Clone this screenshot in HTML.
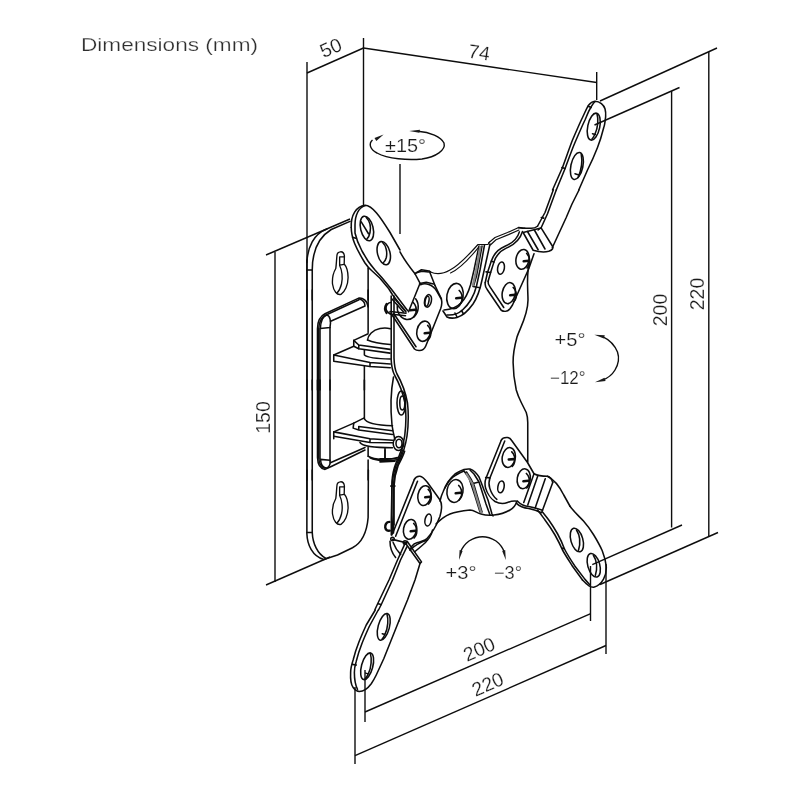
<!DOCTYPE html>
<html><head><meta charset="utf-8">
<style>
html,body{margin:0;padding:0;background:#fff;}
body{width:800px;height:800px;overflow:hidden;font-family:"Liberation Sans",sans-serif;}
svg{display:block;position:absolute;left:0;top:0;filter:grayscale(1);}
.d{stroke:#0d0d0d;stroke-width:1.4;fill:none;stroke-linecap:butt;stroke-linejoin:round;}
.p{stroke:#0d0d0d;stroke-width:1.55;fill:none;stroke-linecap:round;stroke-linejoin:round;}
.p *{vector-effect:non-scaling-stroke;}
.w{fill:#fff;}
.pw{stroke:#1a1a1a;stroke-width:1.1;fill:#fff;stroke-linecap:round;stroke-linejoin:round;}
.t{font-family:"Liberation Sans",sans-serif;fill:#1a1a1a;stroke:#fff;stroke-width:0.2;}
</style></head><body>
<svg width="800" height="800" viewBox="0 0 800 800">
<rect width="800" height="800" fill="#fff"/>
<defs>
<g id="ph" fill="none" stroke="#0d0d0d" stroke-linecap="round">
<path d="M0.200 1.200L5.200 0.800" stroke-width="2.600"/>
<path d="M3.200 -6.500C5.800 -4 6.600 0 6 3.500C5.600 5.500 4.600 7 3.600 8" stroke-width="1.700"/>
</g>
<g id="kh" fill="none" stroke="#0d0d0d" stroke-width="1.350" stroke-linecap="round" stroke-linejoin="round">
<path d="M336.900 256C337 250.800 343.800 250 344.400 256L344.200 264C346.500 266.500 348 272 348.100 277.500C348 285 345 292 341 294.300C337 295.500 333.500 291 332.500 284C332 277 334 271.500 335.800 268.500C336.300 265 336.500 260 336.900 256Z"/>
<path d="M339.650 265.300V256.900H344.200M339.650 265.200L344.200 264.400"/>
<path d="M339.650 265.500C342 270 343 278 341.500 284C340.500 288 339 291 337 293"/>
</g>
</defs>
<!-- TITLE -->
<text class="t" x="81" y="51" font-size="18" textLength="177" lengthAdjust="spacingAndGlyphs" style="fill:#2e2e2e;stroke-width:0.25">Dimensions (mm)</text>

<!-- DIMENSION LINES -->
<g class="d" id="dims">
<!-- 50 -->
<path d="M307 62V500"/>
<path d="M307 73L363.5 48"/>
<!-- 50/74 shared vertical -->
<path d="M363.5 38V205"/>
<!-- 74 -->
<path d="M363.5 48L596.7 82.5"/>
<path d="M596.7 72V100"/>
<!-- 220 vertical -->
<path d="M600 101L717 48"/>
<path d="M708.800 52V537"/>
<path d="M600 584.5L718 532.5"/>
<!-- 200 vertical -->
<path d="M594.5 125L679.5 87.5"/>
<path d="M671.600 91V527.5"/>
<path d="M592.300 564.600L682 525"/>
<!-- 200 bottom -->
<path d="M365 670V722"/>
<path d="M365 712L590.7 613.6"/>
<path d="M590.5 566V621"/>
<!-- 220 bottom -->
<path d="M355 687V764"/>
<path d="M355 755.7L606 645.5"/>
<path d="M606 564V654"/>
<!-- 150 -->
<path d="M266 255L350 219"/>
<path d="M275 252V582"/>
<path d="M266 585L330 557"/>
<!-- +-15 line -->
<path d="M400 164V234"/>
</g>


<!-- TEXT LABELS -->
<g class="t" font-size="19.500" text-anchor="middle">
<text transform="translate(330.600,47.500) rotate(-23.800)" y="7">50</text>
<text transform="translate(479.200,52) rotate(8.200)" y="7">74</text>
<text transform="translate(659.750,310) rotate(-90)" y="7">200</text>
<text transform="translate(696.750,294) rotate(-90)" y="7">220</text>
<text transform="translate(262.750,417.500) rotate(-90)" y="7">150</text>
<text transform="translate(479,649) rotate(-23.900)" y="7">200</text>
<text transform="translate(487.500,684) rotate(-23.900)" y="7">220</text>
</g>
<g class="t" font-size="18">
<text x="385" y="152" textLength="41" lengthAdjust="spacingAndGlyphs">±15°</text>
<text x="554.500" y="346.300" textLength="31" lengthAdjust="spacingAndGlyphs">+5°</text>
<text x="550" y="384.400" textLength="35.500" lengthAdjust="spacingAndGlyphs">−12°</text>
<text x="445.500" y="579" textLength="31" lengthAdjust="spacingAndGlyphs">+3°</text>
<text x="494" y="579" textLength="28" lengthAdjust="spacingAndGlyphs">−3°</text>
</g>
<!-- ARCS + ARROWS -->
<g class="d">
<!-- +-15 ellipse -->
<path d="M418 131.300C430 132 441 137 444 143C446 150 436 157 422 159C408 160.500 388 159 377 153C369 149 369 143 372.500 140"/>
<!-- +5/-12 arc -->
<path d="M603 336.800C610 340 615 346 617.500 352C619.500 358 618 365 615 370C612 375 608 378 603 379.800"/>
<!-- +3/-3 arc -->
<path d="M460.500 552C462.500 547 465 544 469 541C474 538 478 536.800 482.500 536.800C487 536.800 491 538 496 541C500 544 502.500 547 504.200 552"/>
</g>
<g fill="#1a1a1a" stroke="none">
<path d="M409.200 131L420 129.700L419.300 132.800Z"/>
<path d="M383.600 134.500L374.500 138L376.300 141Z"/>
<path d="M594.400 334.700L604.800 335.300L603.800 338.600Z"/>
<path d="M595 382.200L604.500 377.800L605.600 381Z"/>
<path d="M459 560L459.600 550L462.600 551Z"/>
<path d="M505.800 560L502.200 551L505.200 550Z"/>
</g>

<!-- PART -->
<g class="p" id="part">

<!-- TILE A (300,200) -->
<g transform="translate(300,200) scale(0.125)">
<!-- plate top-left -->
<path d="M55 500C60 380 110 270 215 232"/>
<path d="M98 560C98 400 150 297 250 236L400 171"/>
<path d="M55 560H98V800"/>
<path d="M55 480V800"/>
<!-- keyhole top -->
<!-- plate right edge -->
<path d="M545 545V800"/>
<!-- arm UL -->
<path d="M410 220C405 120 450 50 520 42C580 45 640 130 720 260L800 400"/>
<path d="M410 220C410 265 422 310 437 348C455 392 490 455 520 504C540 534 558 552 577 568L638 624L710 710L740 758L800 836L848 896"/>
<path d="M520 45C470 60 440 120 440 200L440 264C448 300 470 360 496 408C512 436 528 462 544 488C562 514 580 536 600 560L656 622L730 712L860 884"/>
<path d="M420 298L447 306"/>

<ellipse cx="535" cy="228" rx="50" ry="100" transform="rotate(-14 535 228)"/>
<path d="M530 140C560 170 568 220 560 260C555 285 548 300 536 311"/>
<path d="M490 175L548 270"/>
<ellipse cx="670" cy="425" rx="50" ry="95" transform="rotate(-14 670 425)"/>
<path d="M659 338C690 365 700 420 690 462C685 480 678 492 668 500"/>
</g>

<!-- TILE B (400,250) -->
<g transform="translate(400,250) scale(0.125)">
<path d="M0 15C40 90 80 140 120 190L160 265"/>
<path d="M118 190L172 158L232 168L244 176"/>
<path d="M130 182L175 170L228 176"/>
<path d="M236 172L280 284"/>
<path d="M157 268L210 258L268 272"/>
<!-- bracket UL -->
<path d="M158 272L68 494"/>
<path d="M164 278C200 262 260 270 296 332L330 392C340 420 336 440 325 470L206 768C195 795 170 805 152 804C135 803 125 800 116 792L-70 510"/>
<path d="M128 774L-49 510"/>
<path d="M280 284L332 392"/>
<ellipse cx="224" cy="407" rx="27" ry="51" transform="rotate(12 224 407)"/>
<ellipse cx="216" cy="410" rx="15" ry="40" transform="rotate(12 216 410)"/>
<!-- screws -->
<path d="M-20 440C-30 490 0 545 50 555C100 560 140 520 145 470C148 440 140 410 125 390"/>
<ellipse cx="190" cy="650" rx="55" ry="82" transform="rotate(12 190 650)"/>

<ellipse cx="440" cy="368" rx="65" ry="102" transform="rotate(10 440 368)"/>

<!-- center plate top edge -->
</g>

<!-- centre plate top edge + rib (source coords) -->
<g>
<path d="M430.5 272C437 275 444 273.500 450 270C458 266 466 258 478 244.500L488 244.500L489.500 242" stroke-width="1.150"/>
<path d="M450.500 273C459.500 269 467.500 261 478.500 247.300" stroke-width="1.100"/>
<!-- rib lines -->
<path d="M479 246L474 270L470.500 285C468.500 292 465 299 461 303C457 307 452 309.500 444 310"/>
<path d="M482 246L476.500 276L473.500 286"/>
<path d="M484.500 245L480 270L476.500 286C474 296 468 305 462.500 310C458 314 453 315.500 447 315"/>
<path d="M490 244L486 262L482 280C480 290 477 298 473 304C468 311 462 316 457 317.500C453 318.500 449 318 447 317L443 311"/>
<path d="M473 286.500L480 287.700M461.500 310.500L463.500 314M455 313L457 317"/>
</g>
<!-- TILE C (470,220) UR bracket -->
<g transform="translate(470,220) scale(0.125)">
<path d="M150 182L200 140L300 100L385 62L440 64" stroke-width="1.150"/>
<path d="M163 200L208 158L308 117L392 80" stroke-width="1.100"/>
<path d="M395 95C380 150 340 185 280 210C220 235 190 270 170 330L140 420L122 500"/>
<path d="M420 92C400 160 350 200 290 225C235 250 210 280 192 335L165 420L145 490"/>
<path d="M122 500C118 520 125 540 140 560L250 722C270 735 300 735 320 710L340 680L470 390L512 270"/>
<path d="M145 490C142 505 150 520 160 535L270 700"/>
<path d="M170 330L192 336M128 415L165 420"/>
<ellipse cx="248" cy="385" rx="27" ry="50" transform="rotate(10 248 385)"/>
<ellipse cx="420" cy="315" rx="52" ry="80" transform="rotate(10 420 315)"/>

<ellipse cx="310" cy="585" rx="52" ry="85" transform="rotate(10 310 585)"/>

<!-- tab of UR arm -->
<!-- centre plate right concave edge -->
</g>

<!-- TILE D (530,90) UR arm tip -->
<g transform="translate(530,90) scale(0.125)">
<path d="M180 800L260 620C290 540 320 450 340 400C370 330 400 260 420 220C440 180 455 140 470 120C485 100 500 92 520 90C560 90 590 120 600 150C608 180 606 200 605 215C600 260 595 290 590 300C575 360 560 410 540 460C515 525 490 580 460 640L390 800"/>
<path d="M210 800L280 630C310 550 340 465 360 420C390 350 420 280 440 240C455 205 470 165 485 142C495 125 505 105 520 92"/>
<path d="M465 130L490 140M255 620L280 628"/>
<ellipse cx="510" cy="293" rx="48" ry="110" transform="rotate(12 510 293)"/>
<path d="M536 192C548 230 545 300 520 352C512 370 505 382 496 392"/>
<path d="M500 350L522 356"/>
<ellipse cx="375" cy="608" rx="48" ry="110" transform="rotate(12 375 608)"/>
<path d="M410 515C420 565 410 640 385 700M360 670L390 680"/>
</g>
<!-- TILE E (490,160) UR arm lower + tab -->
<g transform="translate(490,160) scale(0.125)">
<path d="M507 238L440 420L380 530"/>
<path d="M530 240L460 430L410 540L385 560"/>
<path d="M410 460L430 465"/>
<path d="M712 240L656 352L608 464L560 568L512 672L498 702"/>
<path d="M380 530C360 545 340 548 320 546L260 545L228 540"/>
<path d="M265 580L400 546L410 545L500 690C510 705 500 720 470 730C440 738 400 738 345 722L265 580"/>
<path d="M300 572L385 718M355 560L440 712"/>
</g>

<!-- TILE F (470,420) LR bracket -->
<g transform="translate(470,420) scale(0.125)">
<path d="M250 162C258 145 275 138 300 140C315 142 325 150 332 162L460 340L512 430"/>
<path d="M250 162L130 460C118 490 118 520 125 545C135 580 165 630 200 652C230 668 270 672 300 660C330 648 350 645 380 650"/>
<path d="M278 168L160 462C150 490 150 520 158 545C170 585 190 615 215 635"/>
<path d="M125 460L160 463"/>
<ellipse cx="310" cy="300" rx="52" ry="80" transform="rotate(10 310 300)"/>

<ellipse cx="430" cy="470" rx="52" ry="80" transform="rotate(10 430 470)"/>

<ellipse cx="248" cy="535" rx="25" ry="48" transform="rotate(10 248 535)"/>
<!-- tab -->
<path d="M512 430L430 660M542 448L462 680M602 470L522 702M662 500L580 722"/>
<path d="M512 430C540 445 580 450 620 450C640 455 655 475 662 500"/>
<path d="M380 650C410 680 440 690 470 692C510 700 550 712 580 722"/>
<path d="M370 665C400 695 440 705 470 708C510 715 545 728 572 742"/>
<!-- arm top edge start -->
<path d="M620 450C680 480 720 540 750 600L800 690"/>
</g>
<!-- TILE G (520,480) LR arm -->
<g transform="translate(520,480) scale(0.125)">
<path d="M400 210C432 255 475 292 508 328C542 366 568 405 590 440C618 486 642 530 658 566C675 610 686 652 690 690C695 760 660 840 590 858C560 860 540 840 500 800"/>
<path d="M140 240C165 270 185 300 200 320C230 360 260 405 280 440C305 485 325 525 340 560C365 605 395 650 420 690L500 800"/>
<path d="M175 250C195 275 215 300 230 320C255 355 280 395 300 430C322 470 342 515 355 550C380 600 410 645 440 690L520 795L556 836"/>
<path d="M335 545L355 550"/>
<ellipse cx="455" cy="480" rx="48" ry="97" transform="rotate(-16 455 480)"/>
<path d="M452 400C478 440 486 500 468 562"/>
<ellipse cx="590" cy="682" rx="48" ry="97" transform="rotate(-16 590 682)"/>
<path d="M587 602C613 642 621 700 603 762"/>
</g>

<!-- TILE H (380,450) LL bracket -->
<g transform="translate(380,450) scale(0.125)">
<path d="M180 0C170 40 145 90 130 120C115 160 100 220 95 290V520L100 620L95 680"/>
<path d="M197 10C185 50 160 95 145 125C130 165 115 225 112 290V600"/>
<path d="M90 290L115 292"/>
<path d="M0 70H130M0 95L120 90M40 0V70"/>
<!-- bracket -->
<path d="M275 235C285 215 300 208 320 210C340 212 352 225 380 260L430 330L480 400C498 430 500 460 480 530L450 600C430 640 415 660 400 680C385 700 375 712 360 720C340 732 320 735 300 740C280 745 265 755 255 770L240 800"/>
<path d="M275 235L100 670M300 250L125 690"/>
<ellipse cx="355" cy="365" rx="52" ry="80" transform="rotate(10 355 365)"/>

<ellipse cx="240" cy="635" rx="52" ry="80" transform="rotate(10 240 635)"/>

<ellipse cx="385" cy="560" rx="25" ry="48" transform="rotate(10 385 560)"/>
<!-- pivot dot -->
<path d="M75 575C50 575 40 600 42 620C45 640 60 648 78 645" stroke-width="2.400"/>
</g>
<!-- TILE I (340,530) LL arm top -->
<g transform="translate(340,530) scale(0.125)">
<path d="M520 100L517 115L460 240L392 400L304 584L280 636"/>
<path d="M535 135L484 240L420 400L332 592L308 640"/>
<path d="M305 590L330 596"/>
<path d="M520 100L640 268L600 400L540 560L470 730"/>
<path d="M537 90L652 255L640 268"/>
<path d="M740 0C735 40 700 90 650 130C630 148 615 160 600 172"/>
<path d="M560 160C600 120 650 95 700 80"/>
<path d="M420 75L520 100M400 90C400 140 420 190 445 220M425 100C440 140 460 170 485 195"/>
<circle cx="420" cy="72" r="14"/><circle cx="520" cy="100" r="14"/>
</g>
<!-- TILE J (330,610) LL arm tip -->
<g transform="translate(330,610) scale(0.125)">
<path d="M362 0L290 120C265 175 245 220 230 260C210 310 195 360 185 400C172 440 165 465 165 500C162 560 170 600 185 620C200 640 215 650 235 652C270 652 300 630 330 590C345 568 358 545 370 520L430 390L490 240L550 90"/>
<path d="M386 0L315 130C290 185 270 230 255 270C235 320 220 370 210 410C198 450 194 470 195 500C195 560 203 600 220 635"/>
<path d="M180 435L210 440"/>
<ellipse cx="430" cy="135" rx="45" ry="110" transform="rotate(15 430 135)"/>
<path d="M456 34C468 72 465 142 440 194C432 212 425 224 416 234M418 190L440 196"/>
<ellipse cx="297" cy="450" rx="45" ry="110" transform="rotate(15 297 450)"/>
<path d="M323 349C335 387 332 457 307 509C299 527 292 539 283 549M285 505L307 511"/>
</g>

<!-- TILE K (300,290) cover top + upper swivel plates -->
<g transform="translate(300,290) scale(0.125)">
<path d="M55 0V800M98 0V800"/>
<path d="M545 0V340"/>
<!-- cover -->
<path d="M140 800V310C140 250 160 210 200 190L470 65C500 60 540 85 545 135"/>
<path d="M150 800V312C152 255 170 220 208 200L472 78"/>
<path d="M160 800V310"/>
<path d="M163 308C165 250 185 205 215 200C240 205 250 250 240 300Z"/>
<path d="M240 300V800"/>
<path d="M245 250L520 128C520 100 500 78 472 70"/>
<!-- upper plate -->
<path d="M545 350L430 403V450L470 470L720 505"/>
<path d="M430 403L470 440L720 475M470 440V470"/>
<path d="M540 400C545 360 580 320 640 308C670 303 700 304 722 310"/>
<path d="M540 400C580 418 650 430 722 436"/>
<!-- cylinder short -->
<path d="M515 478V520C540 540 620 550 722 552"/>
<!-- lower plate -->
<path d="M430 450L270 520V570L560 612L722 622"/>
<path d="M270 520L560 580L722 592M560 580V612"/>
<path d="M515 612V800"/>
</g>
<!-- TILE L (300,380) cover bottom + lower swivel plates -->
<g transform="translate(300,380) scale(0.125)">
<path d="M55 0V800M98 0V800"/>
<path d="M140 0V620C142 680 160 710 200 715L250 692L520 560"/>
<path d="M150 0V622C152 670 168 698 200 703"/>
<path d="M160 0V630"/>
<path d="M240 0V645"/>
<path d="M163 635L240 642C245 670 235 700 212 705C185 705 168 680 163 635Z"/>
<path d="M243 662L520 540"/>
<path d="M515 0V310"/>
<!-- lower bracket -->
<path d="M510 305L430 345L270 415V470"/>
<path d="M270 415L560 470L740 482M270 450L560 500L740 502M560 470V500"/>
<path d="M430 345L425 385L470 400L740 436M470 372L740 406M470 372V400"/>
<path d="M515 310C530 345 620 362 740 366"/>
<path d="M480 500C500 530 600 542 740 542"/>
<path d="M545 540V610M680 545V628"/>
<path d="M545 610C600 640 700 645 780 620"/>
<path d="M560 622C620 650 720 655 790 635"/>
<path d="M545 640V800"/>
</g>
<!-- TILE M (300,470) plate bottom -->
<g transform="translate(300,470) scale(0.125)">
<path d="M55 0V510C58 600 100 690 190 716L300 680L420 622C490 585 535 500 545 380L547 0"/>
<path d="M98 0V500C102 590 140 670 205 706"/>
<path d="M55 500H98"/>
</g>
<!-- centre plate left edge (source coords) -->
<g>
<path d="M391.200 296V360C391.500 366 392.500 371 394.500 375C399 383 403 393 405 403C406.200 412 406.200 424 404.700 436C403 446 399.500 456 396 463C393.500 469 392.300 476 392 482L391.300 520V535"/>
<path d="M394 296V358C394.200 364 395 370 397 374C401 381 405.500 392 407.500 403C408.500 412 408.600 424 407 436C405.500 446 402 456 398.500 463C395.500 469 394.200 476 393.800 482L393.500 520V533"/>
<path d="M393.500 377C391 390 390.500 410 392 425C393 432 394 436 395 440"/>
<ellipse cx="401.300" cy="403" rx="4.300" ry="12" />
<ellipse cx="402.300" cy="403" rx="2.500" ry="7" />
<ellipse cx="398.500" cy="443.500" rx="5.300" ry="7" />
<ellipse cx="399" cy="443.500" rx="3" ry="4.200" />
</g>

<!-- pivot detail near UL bracket -->
<g><path d="M390.800 486H395"/></g>
<g>
<path d="M391 302.500A5 5.500 0 0 0 391 313.500"/>
<path d="M390 311.500L406 313.200M390 314L405.500 315.700"/>
<path d="M392 299L403.500 312M394 298L405 310.500"/>
<path d="M386.500 304C384.500 307 384.500 310 386.500 313" stroke-width="2.200"/>
</g>

<!-- centre plate right edge + lower lobe (source coords) -->
<g>
<path d="M529.400 263.500C526 275 528 290 528 300C528 315 520 328 517 337C514 348 513 356 513.100 362.500C513.200 372 514.500 382 516.250 390C518 396 519.500 399 521.250 402.500L526.250 412.500C527.500 416 527.750 419 527.750 422.500V462"/>
<!-- lower-left lobe -->
<path d="M440 501C441 497 442 494 443 492C444.500 488 446 485 448 482C450 479 452 476.500 455 474C458 472 461 470.500 464 469.500C466 469 468 468.800 470 469C472 469.500 473.500 470.500 475 472C477 474 478 475.500 479 477L481 482L484 490L488 500L492 514L493 516"/>
<path d="M445 488C447 484 449 481 450 480C452 477.500 454 476 456 475C459 473 461 472 464 471"/>
<path d="M464 471L469 478L471 484L475 496L480 512"/>
<path d="M466.500 472L471.500 480L474 485L482 512"/>
<path d="M470 470L474 474L479 482M471 484L479 482L486 504L490 515"/>
<!-- bottom concave edge of centre plate -->
<path d="M436 524C440 520 445 516 450 514C455 512 460 511 470 510C474 510 477 513 481 514C486 515.500 490 515.500 494 515C500 514.500 505 513 510 510C514 508 516 504 517 501.500"/>
<!-- lower-left screw of plate -->
<ellipse cx="455" cy="491" rx="8" ry="11.500" transform="rotate(10 455 491)"/>

</g>

<use href="#kh"/><use href="#kh" y="230"/>
<!-- phillips marks (source coords) -->
<g>
<use href="#ph" x="424.500" y="332"/>
<use href="#ph" x="456" y="297"/>
<use href="#ph" x="523.500" y="260"/>
<use href="#ph" x="510" y="294"/>
<use href="#ph" x="508.600" y="458.300"/>
<use href="#ph" x="523.200" y="480"/>
<use href="#ph" x="425" y="496"/>
<use href="#ph" x="410.500" y="530"/>
<use href="#ph" x="455.500" y="492"/>
<use href="#ph" x="410" y="309"/>
</g>
<!-- hatch bands -->
<g stroke="#858585" stroke-width="2.300" fill="none">
<path d="M480.300 247L476 271L473 285"/>
<path d="M466.500 474L472.500 484L481 512"/>
</g>
</g>
</svg>
</body></html>
